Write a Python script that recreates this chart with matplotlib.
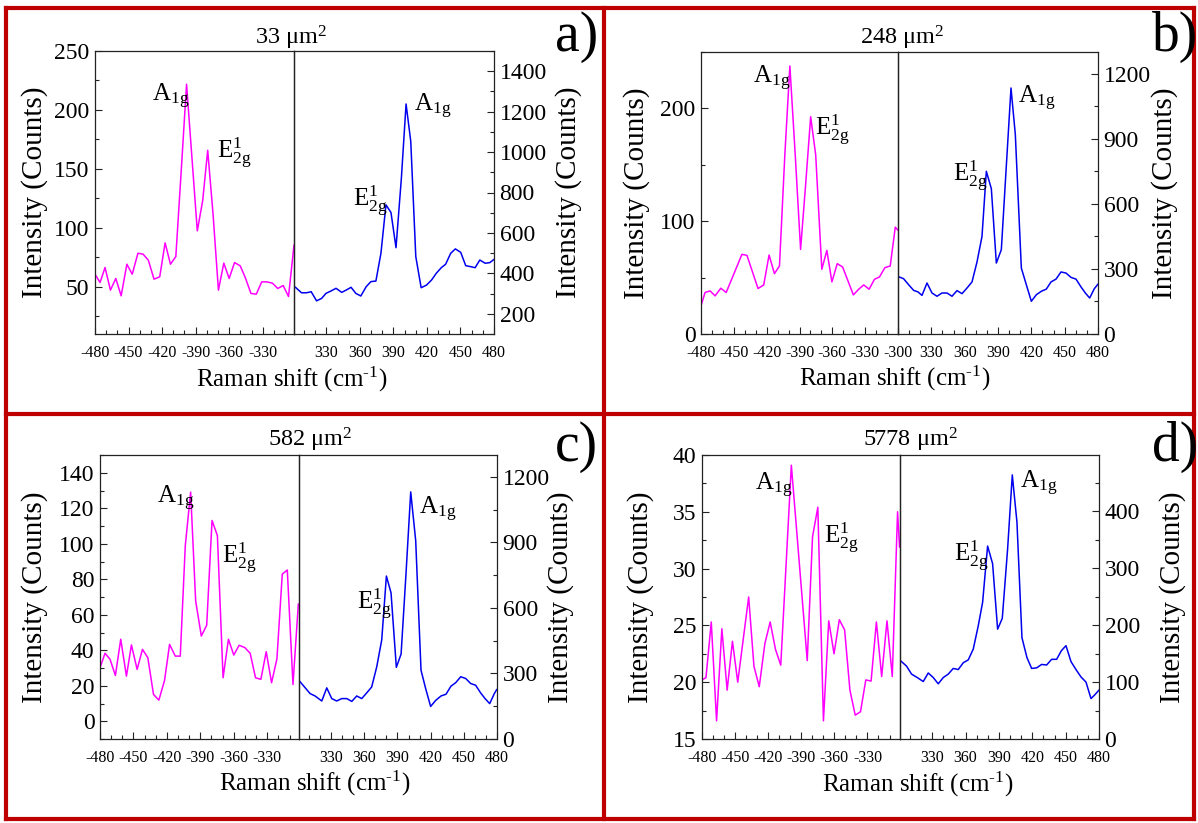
import matplotlib.pyplot as plt
from matplotlib.ticker import MultipleLocator
from matplotlib.lines import Line2D

plt.rcParams['font.family'] = ['Liberation Serif', 'DejaVu Serif']
plt.rcParams['mathtext.fontset'] = 'custom'
plt.rcParams['mathtext.rm'] = 'Liberation Serif'
plt.rcParams['mathtext.it'] = 'Liberation Serif:italic'
plt.rcParams['mathtext.bf'] = 'Liberation Serif:bold'
plt.rcParams['axes.unicode_minus'] = False

W, H = 1198, 823

# ---- data (negative side = magenta, positive side = blue) ----
titles = ['33 μm$^{2}$', '248 μm$^{2}$', '582 μm$^{2}$', '5778 μm$^{2}$']
letters = ['a)', 'b)', 'c)', 'd)']

a_neg_x = [-480, -475.5, -471, -466.2, -461.4, -456.6, -451.5, -446.7, -441.6, -437, -432.3, -427.2, -422.1,
           -417.3, -412.5, -407.7, -402.9, -398.1, -393.3, -388.5, -383.7, -379.2, -374.4, -369.6, -364.8, -360,
           -355.2, -350.1, -345.6, -340.5, -335.7, -330.9, -326.1, -321.3, -316.5, -311.7, -306.9, -302]
a_neg_y = [60.7, 53.7, 66.4, 47.2, 57.1, 42.4, 69.2, 60.7, 78.5, 77.7, 72.6, 56.5, 58.5, 87.3, 69.2, 75.7, 148,
           221.8, 159.6, 97.5, 122.9, 165.8, 111.6, 47.2, 70.1, 57.1, 70.6, 67.8, 57.9, 44.4, 43.8, 54.2, 54.2,
           53.1, 48.6, 51.1, 41.8, 85.3]
a_pos_x = [302.3, 307.7, 312.2, 316.4, 321.2, 325.7, 329.6, 333.8, 338.6, 343.7, 347.6, 352.1, 356.3, 360.8,
           365.6, 369.8, 374.3, 378.8, 383.3, 387.8, 392.3, 397.1, 401.3, 405.5, 410, 414.8, 419.6, 424.1, 428.3,
           432.8, 436.7, 441.2, 445.4, 450.2, 454.7, 459.2, 463.1, 467.3, 472.1, 476.2, 480]
a_pos_y = [331, 304, 304, 309, 264, 276, 301, 312, 326, 306, 317, 331, 301, 288, 334, 359, 362, 499, 739, 701,
           527, 871, 1238, 1053, 483, 329, 342, 367, 400, 428, 445, 499, 521, 504, 438, 433, 428, 466, 450, 453, 469]

b_neg_x = [-480, -476.3, -471.7, -467.1, -461.9, -457, -442.6, -438, -427.9, -422.7, -417.8, -412.9, -408.3,
           -403.4, -398.8, -393.9, -389, -384.4, -379.8, -375.2, -369.6, -365, -360.4, -355.5, -350.6, -340.8,
           -335.9, -331.3, -326.4, -321.5, -316.9, -312, -307.1, -302.5, -300]
b_neg_y = [25, 36.8, 38.2, 33.8, 40.6, 36.8, 70.6, 69.7, 40.3, 43.5, 70, 53.5, 60.3, 158.8, 237.6, 158.8, 75,
           132.4, 192.6, 158.8, 57.4, 74.1, 46.2, 62.4, 59.4, 34.7, 39.7, 43.5, 39.7, 48.5, 50.6, 58.8, 60.3,
           94.7, 92]
b_pos_x = [301, 305, 309.6, 314.1, 318, 321.6, 326.1, 330.6, 335.1, 339.6, 344.1, 348.6, 353.1, 357.6, 362.1,
           366.6, 371.1, 375.6, 379.5, 384, 388.5, 393, 397.2, 401.7, 405.6, 411, 415.5, 420, 424.5, 429, 433.5,
           437.7, 442.2, 446.7, 451.2, 455.7, 460.2, 464.7, 468.6, 472.5, 476.7, 480]
b_pos_y = [263, 255, 227, 201, 194, 178, 235, 189, 174, 189, 189, 174, 200, 186, 212, 240, 332, 450, 750, 670,
           327, 389, 750, 1134, 919, 304, 227, 151, 181, 197, 207, 240, 253, 286, 281, 261, 253, 217, 189, 166,
           209, 230]

c_neg_x = [-480, -475.5, -471, -466.2, -461.4, -456.3, -451.8, -446.7, -441.9, -437.1, -432, -427.2, -422.1,
           -417.6, -412.5, -408, -403.5, -398.7, -394.2, -389.1, -384.3, -379.5, -374.7, -369.6, -364.8, -360,
           -355.2, -350.1, -345.3, -340.5, -335.7, -330.9, -326.1, -321.3, -316.5, -312, -306.9, -302.1]
c_neg_y = [30.1, 38.3, 34.9, 25.8, 46.2, 25.4, 43, 29.2, 40.5, 35.8, 15.1, 11.9, 23, 43.3, 36.7, 36.7, 98.9,
           129.1, 67.8, 48, 54.1, 113.1, 104.6, 24.5, 46.2, 37.3, 42.8, 41.5, 38.3, 24.5, 23.6, 39.2, 21.7, 35.2,
           82.9, 85.2, 20.7, 66]
c_pos_x = [302, 306.5, 311, 315.5, 321.6, 326.1, 330.6, 335.1, 339.6, 344.2, 348.7, 353.2, 357.7, 362.2, 366.7,
           371.3, 375.8, 380, 384.2, 389, 393.3, 397.8, 402, 406.5, 411.3, 415.5, 420, 424.6, 429.4, 433.9, 438.4,
           442.7, 447.2, 451.7, 456.2, 460.7, 465.2, 469.2, 473.4, 477.6, 479.7]
c_pos_y = [262, 235, 208, 197, 174, 234, 185, 174, 185, 185, 172, 197, 185, 211, 238, 331, 454, 746, 669, 328,
           389, 762, 1131, 908, 315, 231, 149, 177, 197, 205, 242, 258, 285, 277, 254, 246, 211, 185, 162, 208, 226]

d_neg_x = [-480, -476.4, -471.6, -466.8, -462, -457.2, -452.4, -447.6, -437.7, -432.9, -428.1, -423, -418.2,
           -413.4, -408.6, -399, -384.6, -379.8, -375, -369.9, -365.1, -360.3, -355.5, -350.7, -345.9, -341.1,
           -336.3, -331.5, -326.7, -321.9, -317.1, -312.3, -307.5, -302.7, -300.9]
d_neg_y = [20.2, 20.4, 25.3, 16.6, 24.7, 19.3, 23.6, 20, 27.5, 21.4, 19.6, 23.4, 25.3, 22.9, 21.5, 39.1, 21.9,
           32.8, 35.4, 16.6, 25.4, 22.5, 25.5, 24.6, 19.3, 17.1, 17.4, 20.2, 20.1, 25.3, 20.5, 25.4, 20.5, 35, 31.9]
d_pos_x = [301.8, 306.9, 311.4, 316.5, 321.9, 326.4, 330.9, 335.4, 339.9, 344.4, 348.9, 353.4, 357.9, 362.4,
           366.9, 371.4, 375.3, 379.8, 384.3, 388.8, 393, 397.8, 402, 406.2, 410.7, 415.2, 419.4, 423.9, 428.4,
           432.9, 437.4, 441.9, 446.1, 450.3, 454.8, 459.3, 463.8, 468.3, 472.8, 476.4, 480]
d_pos_y = [137, 128, 114, 108, 101, 116, 108, 97, 108, 114, 124, 122, 134, 139, 158, 199, 240, 339, 308, 193,
           212, 334, 464, 381, 178, 143, 124, 125, 131, 130, 140, 140, 155, 164, 136, 122, 109, 100, 71, 78, 86]

# ---- layout (pixels, origin top-left) ----
panels = [
    dict(neg=(a_neg_x, a_neg_y), pos=(a_pos_x, a_pos_y), box=(95, 294, 494, 51, 334),
         xl=(-480, -302), xr=(301, 480), yl=(10, 250), yr=(100, 1500),
         ytl=[50, 100, 150, 200, 250], ml=25, ytr=[200, 400, 600, 800, 1000, 1200, 1400], mr=100,
         labl=48, labr=555, xlab=(292, 379), tit=(291, 45), let=(598, 37),
         ann_neg=[(-428.7, 207.6), (-371, 158.2)], ann_pos=[(408.7, 1202), (354.2, 730)]),
    dict(neg=(b_neg_x, b_neg_y), pos=(b_pos_x, b_pos_y), box=(701, 898, 1098, 52, 334),
         xl=(-480, -300), xr=(300, 480), yl=(0, 250), yr=(0, 1300),
         ytl=[0, 100, 200], ml=50, ytr=[0, 300, 600, 900, 1200], mr=150,
         labl=650, labr=1151, xlab=(895, 378), tit=(902, 45), let=(1198, 37),
         ann_neg=[(-432.8, 222), (-376.1, 175.9)], ann_pos=[(408, 1064), (349.2, 703)]),
    dict(neg=(c_neg_x, c_neg_y), pos=(c_pos_x, c_pos_y), box=(100, 299, 497, 455, 739),
         xl=(-480, -301.5), xr=(301, 480), yl=(-10, 150), yr=(0, 1300),
         ytl=[0, 20, 40, 60, 80, 100, 120, 140], ml=10, ytr=[0, 300, 600, 900, 1200], mr=150,
         labl=48, labr=547, xlab=(315, 783), tit=(310, 447), let=(598, 447),
         ann_neg=[(-428.7, 122.5), (-371, 88.6)], ann_pos=[(409.8, 1028), (353.8, 592)]),
    dict(neg=(d_neg_x, d_neg_y), pos=(d_pos_x, d_pos_y), box=(702, 900, 1099, 455, 739),
         xl=(-480, -300.5), xr=(301, 480), yl=(15, 40), yr=(0, 499),
         ytl=[15, 20, 25, 30, 35, 40], ml=2.5, ytr=[0, 100, 200, 300, 400], mr=50,
         labl=654, labr=1159, xlab=(918, 784), tit=(910, 447), let=(1198, 447),
         ann_neg=[(-432, 36.9), (-369.6, 32.2)], ann_pos=[(408.9, 441), (349.8, 310.6)]),
]

A_LBL = r'A$_{\mathrm{1g}}$'
E_LBL = r'E$^{\mathrm{1}}_{\mathrm{2g}}$'
SPINE = '#222222'

fig = plt.figure(figsize=(W / 100, H / 100), dpi=100)


def fx(x):
    return x / W


def fy(y):
    return 1 - y / H


for i, p in enumerate(panels):
    x0, xm, x1, yt, yb = p['box']
    axl = fig.add_axes([fx(x0), fy(yb), fx(xm - x0), (yb - yt) / H])
    axr = fig.add_axes([fx(xm), fy(yb), fx(x1 - xm), (yb - yt) / H])

    axl.plot(p['neg'][0], p['neg'][1], color='#ff00ff', lw=1.1)
    axr.plot(p['pos'][0], p['pos'][1], color='#0000ee', lw=1.1)

    axl.set_xlim(*p['xl'])
    axr.set_xlim(*p['xr'])
    axl.set_ylim(*p['yl'])
    axr.set_ylim(*p['yr'])

    lt = list(range(-480, -299, 30)) if p['xl'][1] >= -300 else list(range(-480, -329, 30))
    axl.set_xticks(lt)
    axr.set_xticks(list(range(330, 481, 30)))
    axl.xaxis.set_minor_locator(MultipleLocator(10))
    axr.xaxis.set_minor_locator(MultipleLocator(10))
    axl.set_yticks(p['ytl'])
    axr.set_yticks(p['ytr'])
    axl.yaxis.set_minor_locator(MultipleLocator(p['ml']))
    axr.yaxis.set_minor_locator(MultipleLocator(p['mr']))

    axr.yaxis.tick_right()
    for ax in (axl, axr):
        ax.set_facecolor('none')
        for s in ax.spines.values():
            s.set_color(SPINE)
            s.set_linewidth(0.9)
        ax.tick_params(which='both', direction='in', top=False, color=SPINE, width=0.8)
        ax.tick_params(which='major', length=5)
        ax.tick_params(which='minor', length=3)
        ax.tick_params(axis='x', labelsize=11.5, pad=8)
        ax.tick_params(axis='y', labelsize=17, pad=4)
    axl.tick_params(axis='y', which='both', right=False)
    axr.tick_params(axis='y', which='both', left=False, right=True)

    axl.set_ylabel('Intensity (Counts)', fontsize=21)
    axl.yaxis.set_label_coords((p['labl'] - x0) / (xm - x0), 0.5)
    axr.yaxis.set_label_position('right')
    axr.set_ylabel('Intensity (Counts)', fontsize=21)
    axr.yaxis.set_label_coords((p['labr'] - xm) / (x1 - xm), 0.5)

    (ax_, ay_), (ex_, ey_) = p['ann_neg']
    axl.text(ax_, ay_, A_LBL, fontsize=18, ha='left', va='baseline')
    axl.text(ex_, ey_, E_LBL, fontsize=18, ha='left', va='baseline')
    (ax_, ay_), (ex_, ey_) = p['ann_pos']
    axr.text(ax_, ay_, A_LBL, fontsize=18, ha='left', va='baseline')
    axr.text(ex_, ey_, E_LBL, fontsize=18, ha='left', va='baseline')

    fig.text(fx(p['xlab'][0]), fy(p['xlab'][1]), r'Raman shift (cm$^{\text{-1}}$)', fontsize=18,
             ha='center', va='center')
    fig.text(fx(p['tit'][0]), fy(p['tit'][1]), titles[i], fontsize=17.5, ha='center', va='baseline')
    fig.text(fx(p['let'][0]), fy(p['let'][1]), letters[i], fontsize=40, ha='right', va='center')

# dark red frame around and between the panels
RED = '#bf0000'
frame = [((6, 8), (1194, 8)), ((6, 819), (1194, 819)), ((6, 8), (6, 819)), ((1194, 8), (1194, 819)),
         ((604, 8), (604, 819)), ((6, 414), (1194, 414))]
for (xa, ya), (xb, yb_) in frame:
    fig.add_artist(Line2D([fx(xa), fx(xb)], [fy(ya), fy(yb_)], transform=fig.transFigure,
                          color=RED, lw=3))

fig.savefig('out.png', dpi=100)
